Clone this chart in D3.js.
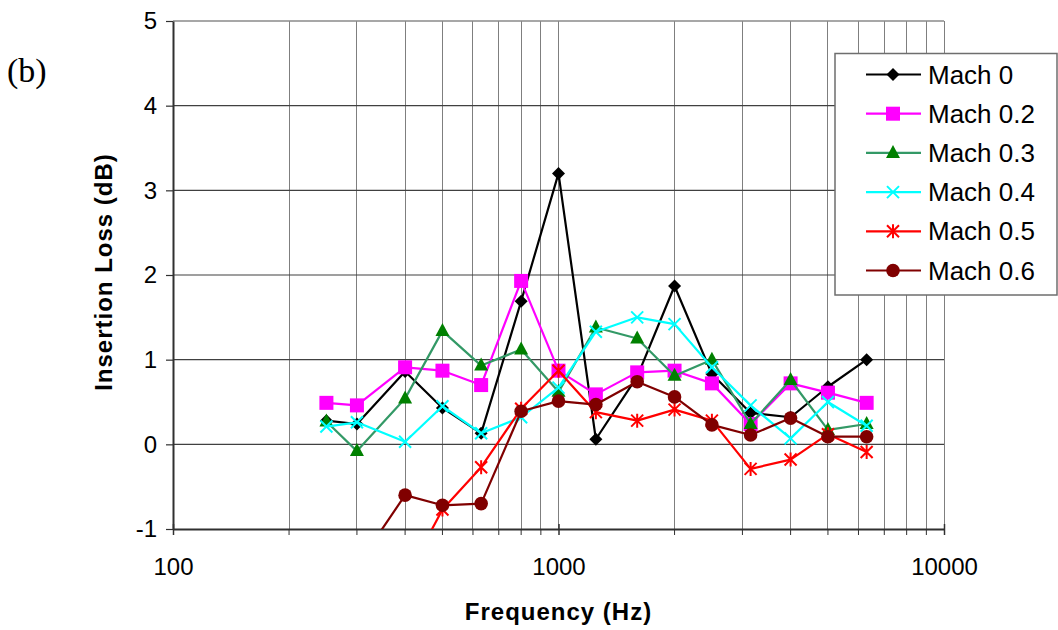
<!DOCTYPE html>
<html>
<head>
<meta charset="utf-8">
<script src="https://cdn.jsdelivr.net/npm/d3@7"></script>
<style>
  html, body { margin: 0; padding: 0; background: #fff; }
  svg { display: block; }
  text { font-family: Arial, "Liberation Sans", sans-serif; fill: #000; }
  text.serif { font-family: "Times New Roman", "Liberation Serif", "DejaVu Serif", serif; }
</style>
</head>
<body>
<svg id="chart" width="1058" height="630"></svg>
<script>
// One-third-octave band centre frequencies (Hz)
const freqs = [250, 300, 400, 500, 630, 800, 1000, 1250, 1600, 2000, 2500, 3150, 4000, 5000, 6300];

// Insertion loss (dB) per flow Mach number; null = below the plotted range
const mach0  = [0.28, 0.24, 0.86, 0.43, 0.13, 1.69, 3.20, 0.06, 0.80, 1.87, 0.83, 0.37, 0.32, 0.68, 1.00];
const mach02 = [0.49, 0.46, 0.91, 0.87, 0.70, 1.93, 0.87, 0.59, 0.85, 0.87, 0.72, 0.24, 0.72, 0.61, 0.49];
const mach03 = [0.27, -0.08, 0.54, 1.34, 0.93, 1.12, 0.62, 1.38, 1.25, 0.81, 1.00, 0.24, 0.76, 0.17, 0.24];
const mach04 = [0.21, 0.26, 0.03, 0.45, 0.13, 0.32, 0.67, 1.33, 1.50, 1.42, 0.91, 0.46, 0.07, 0.50, 0.22];
const mach05 = [null, null, -1.60, -0.77, -0.27, 0.42, 0.87, 0.38, 0.28, 0.41, 0.28, -0.29, -0.18, 0.12, -0.09];
const mach06 = [null, -1.44, -0.60, -0.72, -0.70, 0.39, 0.51, 0.47, 0.74, 0.56, 0.23, 0.11, 0.31, 0.09, 0.09];

const seriesNames = ["Mach 0", "Mach 0.2", "Mach 0.3", "Mach 0.4", "Mach 0.5", "Mach 0.6"];
const xTickValues = [100, 1000, 10000];
const yTickValues = [-1, 0, 1, 2, 3, 4, 5];

const styles = [
  { line: "#000000", fill: "#000000", shape: "diamond" },
  { line: "#ff00ff", fill: "#ff00ff", shape: "square" },
  { line: "#339966", fill: "#008000", shape: "triangle" },
  { line: "#00ffff", fill: "#00ffff", shape: "cross" },
  { line: "#ff0000", fill: "#ff0000", shape: "star" },
  { line: "#800000", fill: "#800000", shape: "circle" }
];

const seriesValues = [mach0, mach02, mach03, mach04, mach05, mach06];
const series = seriesNames.map((name, i) => ({
  name,
  style: styles[i],
  points: freqs.map((f, j) => ({ f, v: seriesValues[i][j] }))
}));

const svg = d3.select("#chart");
const plot = { left: 173, right: 944, top: 21, bottom: 529 };

const x = d3.scaleLog().domain([100, 10000]).range([plot.left, plot.right]);
const y = d3.scaleLinear().domain([-1, 5]).range([plot.bottom, plot.top]);

// Gridlines: every 1-2-...-9 decade line vertically, each unit horizontally
const minorX = [];
for (let d = 100; d < 10000; d *= 10) for (let k = 2; k <= 9; k++) minorX.push(d * k);

const grid = svg.append("g");
grid.selectAll("line.vx").data(minorX.concat([1000, 10000])).enter().append("line")
  .attr("x1", d => x(d)).attr("x2", d => x(d))
  .attr("y1", plot.top).attr("y2", plot.bottom)
  .attr("stroke", "#7f7f7f").attr("stroke-width", 1).attr("shape-rendering", "crispEdges");
grid.selectAll("line.hy").data(yTickValues.filter(v => v > -1)).enter().append("line")
  .attr("x1", plot.left).attr("x2", plot.right)
  .attr("y1", d => y(d)).attr("y2", d => y(d))
  .attr("stroke", d => d === 5 ? "#8a8a8a" : "#404040")
  .attr("stroke-width", d => d === 5 ? 1.5 : 1.2);

// Axes (plain hyphen for negative labels)
const plainFormat = d => String(d);
const yAxis = d3.axisLeft(y).tickValues(yTickValues).tickFormat(plainFormat)
  .tickSizeInner(7).tickSizeOuter(0).tickPadding(9);
const gy = svg.append("g").attr("transform", `translate(${plot.left},0)`).call(yAxis);
gy.attr("font-family", null);
gy.select(".domain").attr("stroke", "#303030").attr("stroke-width", 2);
gy.selectAll(".tick line").attr("stroke", "#303030").attr("stroke-width", 1.2);
gy.selectAll(".tick text").style("font-size", "24px");

const xAxis = d3.axisBottom(x).tickValues(xTickValues).tickFormat(plainFormat)
  .tickSizeInner(6).tickSizeOuter(0).tickPadding(23);
const gx = svg.append("g").attr("transform", `translate(0,${plot.bottom})`).call(xAxis);
gx.attr("font-family", null);
gx.select(".domain").attr("stroke", "#303030").attr("stroke-width", 2);
gx.selectAll(".tick line").attr("stroke", "#303030").attr("stroke-width", 1.5).attr("y1", -5);
gx.selectAll(".tick text").style("font-size", "24px");
gx.selectAll("line.minor").data(minorX).enter().append("line")
  .attr("x1", d => x(d)).attr("x2", d => x(d)).attr("y1", 0).attr("y2", 6)
  .attr("stroke", "#303030").attr("stroke-width", 1);

// Axis titles and panel label
svg.append("text")
  .attr("x", (plot.left + plot.right) / 2).attr("y", 620)
  .attr("text-anchor", "middle").style("font-size", "24px").style("font-weight", "bold")
  .attr("letter-spacing", 1)
  .text("Frequency (Hz)");
svg.append("text")
  .attr("transform", "translate(103,272) rotate(-90)")
  .attr("text-anchor", "middle").attr("dominant-baseline", "central")
  .style("font-size", "24px").style("font-weight", "bold").attr("letter-spacing", 1)
  .text("Insertion Loss (dB)");
svg.append("text").attr("class", "serif")
  .attr("x", 7).attr("y", 82)
  .style("font-size", "34px")
  .text("(b)");

// Marker drawing
function drawMarker(g, shape, fill) {
  switch (shape) {
    case "diamond":
      g.append("path").attr("d", "M0,-6.5L6.5,0L0,6.5L-6.5,0Z").attr("fill", fill);
      break;
    case "square":
      g.append("rect").attr("x", -7).attr("y", -7).attr("width", 14).attr("height", 14).attr("fill", fill);
      break;
    case "triangle":
      g.append("path").attr("d", "M0,-8L7,5L-7,5Z").attr("fill", fill);
      break;
    case "cross":
      g.append("path").attr("d", "M-6,-6L6,6M6,-6L-6,6").attr("stroke", fill).attr("stroke-width", 2).attr("fill", "none");
      break;
    case "star":
      g.append("path").attr("d", "M-6,-6L6,6M6,-6L-6,6M0,-7L0,7").attr("stroke", fill).attr("stroke-width", 2).attr("fill", "none");
      break;
    case "circle":
      g.append("circle").attr("r", 6.8).attr("fill", fill);
      break;
  }
}

// Series, clipped to the plot area
svg.append("clipPath").attr("id", "plotclip").append("rect")
  .attr("x", plot.left).attr("y", plot.top)
  .attr("width", plot.right - plot.left).attr("height", plot.bottom - plot.top);

const line = d3.line().defined(d => d.v !== null).x(d => x(d.f)).y(d => y(d.v));
const seriesLayer = svg.append("g").attr("clip-path", "url(#plotclip)");

series.forEach(s => {
  const g = seriesLayer.append("g");
  g.append("path").datum(s.points).attr("d", line)
    .attr("fill", "none").attr("stroke", s.style.line).attr("stroke-width", 2.2)
    .attr("stroke-linejoin", "round");
  s.points.filter(p => p.v !== null).forEach(p => {
    const m = g.append("g").attr("transform", `translate(${x(p.f)},${y(p.v)})`);
    drawMarker(m, s.style.shape, s.style.fill);
  });
});

// Legend
const legend = svg.append("g");
legend.append("rect")
  .attr("x", 835).attr("y", 53.5).attr("width", 222).attr("height", 241.5)
  .attr("fill", "#fff").attr("stroke", "#6e6e6e").attr("stroke-width", 1.5);
series.forEach((s, i) => {
  const cy = 74.5 + i * 39.2;
  const row = legend.append("g").attr("transform", `translate(0,${cy})`);
  row.append("line").attr("x1", 866).attr("x2", 921).attr("y1", 0).attr("y2", 0)
    .attr("stroke", s.style.line).attr("stroke-width", 2.2);
  const m = row.append("g").attr("transform", "translate(893,0)");
  drawMarker(m, s.style.shape, s.style.fill);
  row.append("text").attr("x", 928).attr("y", 0).attr("dominant-baseline", "central")
    .style("font-size", "26px").text(s.name);
});
</script>
</body>
</html>
